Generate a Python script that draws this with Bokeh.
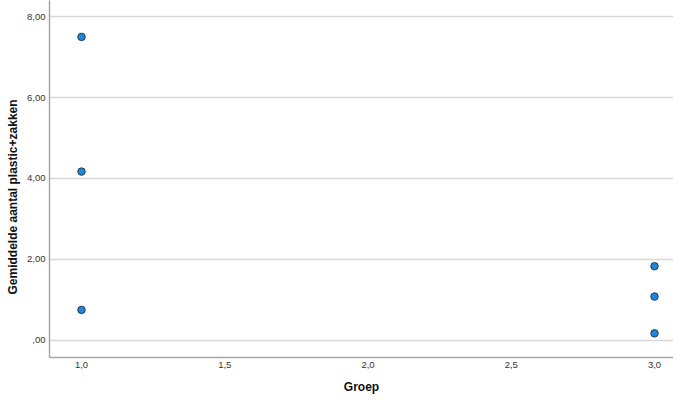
from bokeh.plotting import figure
from bokeh.models import Range1d, FixedTicker, Title
from bokeh.embed import file_html
from bokeh.resources import INLINE

# Data
groep = [1.0, 1.0, 1.0, 3.0, 3.0, 3.0]
gemiddelde = [7.50, 4.17, 0.75, 1.83, 1.08, 0.17]

x_ticks = [1.0, 1.5, 2.0, 2.5, 3.0]
x_tick_labels = ["1,0", "1,5", "2,0", "2,5", "3,0"]
y_ticks = [0.0, 2.0, 4.0, 6.0, 8.0]
y_tick_labels = [",00", "2,00", "4,00", "6,00", "8,00"]

x_title = "Groep"
y_title = "Gemiddelde aantal plastic+zakken"

FONT = "Liberation Sans"

p = figure(width=673, height=396, output_backend="svg", toolbar_location=None,
           x_range=Range1d(0.8883, 3.0663), y_range=Range1d(-0.427, 8.40),
           min_border_left=49, min_border_right=0, min_border_top=0, min_border_bottom=38)
p.outline_line_color = None
p.background_fill_color = "white"
p.border_fill_color = "white"

p.scatter(groep, gemiddelde, size=7.5, fill_color="#1e86dc", line_color="#233a55", line_width=1)

p.xaxis.ticker = FixedTicker(ticks=x_ticks)
p.yaxis.ticker = FixedTicker(ticks=y_ticks)
p.xaxis.major_label_overrides = {t: l for t, l in zip(x_ticks, x_tick_labels)}
p.yaxis.major_label_overrides = {t: l for t, l in zip(y_ticks, y_tick_labels)}

for ax in (p.xaxis, p.yaxis):
    ax.axis_line_color = "#a6a6a6"
    ax.axis_line_width = 1.5
    ax.major_tick_line_color = None
    ax.minor_tick_line_color = None
    ax.major_tick_out = 0
    ax.major_tick_in = 0
    ax.minor_tick_out = 0
    ax.major_label_text_font = FONT
    ax.major_label_text_font_size = "9.5px"
    ax.major_label_text_color = "#333333"
    ax.axis_label_text_font = FONT
    ax.axis_label_text_font_style = "bold"
    ax.axis_label_text_color = "#111111"

p.xaxis.axis_label = x_title
p.xaxis.axis_label_text_font_size = "12px"
p.xaxis.major_label_standoff = 4
p.xaxis.axis_label_standoff = 9
p.yaxis.major_label_standoff = 4

ytitle = Title(text=y_title, align="left", offset=63, vertical_align="middle",
               text_font=FONT, text_font_size="12px", text_font_style="bold",
               text_color="#111111", standoff=8)
p.add_layout(ytitle, "left")

p.xgrid.grid_line_color = None
p.ygrid.grid_line_color = "#d8d8d8"
p.ygrid.grid_line_width = 1.5

open("out.html", "w").write(file_html(p, INLINE))
